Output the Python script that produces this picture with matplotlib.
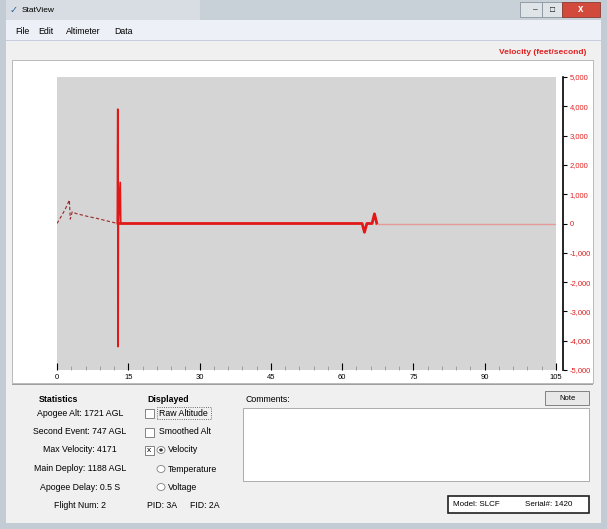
import matplotlib.pyplot as plt
from matplotlib.patches import Rectangle, Circle

plt.rcParams['font.family'] = ['Liberation Sans', 'DejaVu Sans']

# Velocity trace (seconds, feet/second)
ascent_t = [0, 0.8, 1.6, 2.2, 2.6, 2.8, 3.2, 4.0, 5.0, 6.0, 7.0, 8.0, 9.0, 10.0, 11.0, 12.0, 12.7]
ascent_v = [0, 220, 450, 650, 800, 150, 400, 340, 300, 260, 220, 190, 150, 110, 70, 30, 0]
spike_t = [12.7, 12.8, 12.85, 12.9, 13.3, 13.4]
spike_v = [0, 3900, -4200, 0, 1400, 0]
main_t = [12.9, 30, 50, 64.2, 64.7, 65.2, 66.3, 66.8, 67.3]
main_v = [0, 0, 0, 0, -300, 0, 0, 330, 0]
tail_t = [67.3, 80, 95, 105]
tail_v = [0, 0, 0, 0]

x_ticks = [0, 15, 30, 45, 60, 75, 90, 105]
y_ticks = [5000, 4000, 3000, 2000, 1000, 0, -1000, -2000, -3000, -4000, -5000]
y_tick_labels = ["5,000", "4,000", "3,000", "2,000", "1,000", "0",
                 "-1,000", "-2,000", "-3,000", "-4,000", "-5,000"]

menu_items = ["File", "Edit", "Altimeter", "Data"]
stats_lines = ["Apogee Alt: 1721 AGL", "Second Event: 747 AGL", "Max Velocity: 4171",
               "Main Deploy: 1188 AGL", "Apogee Delay: 0.5 S", "Flight Num: 2"]
displayed_items = ["Raw Altitude", "Smoothed Alt", "Velocity", "Temperature", "Voltage"]

W, H = 607, 529
fig = plt.figure(figsize=(W / 100, H / 100), dpi=100)
fig.patch.set_facecolor("#f0f0f0")


def box(x0, y0, x1, y1, **kw):
    fig.add_artist(Rectangle((x0 / W, 1 - y1 / H), (x1 - x0) / W, (y1 - y0) / H,
                             transform=fig.transFigure, **kw))


def label(x, y, s, **kw):
    kw.setdefault("fontsize", 6.3)
    kw.setdefault("va", "center")
    fig.text(x / W, 1 - y / H, s, **kw)


# window chrome
box(0, 0, W, 20, color="#c9d1d8", lw=0)
box(0, 0, 200, 20, color="#d7dde2", lw=0)
box(0, 0, 6, H, color="#c3ccd4", lw=0)
box(W - 6, 0, W, H, color="#c3ccd4", lw=0)
box(0, H - 6, W, H, color="#c3ccd4", lw=0)
box(520, 2, 542, 17, facecolor="#dfe4e8", edgecolor="#8a949c", lw=0.6)
box(542, 2, 562, 17, facecolor="#dfe4e8", edgecolor="#8a949c", lw=0.6)
box(562, 2, 600, 17, facecolor="#d24a3c", edgecolor="#8a3a30", lw=0.6)
label(581, 9.5, "x", color="white", ha="center", fontsize=7, fontweight="bold")
label(535, 10, "–", ha="center", fontsize=6)
label(552, 10, "□", ha="center", fontsize=6)
label(10, 10, "✓", color="#3060a0", fontsize=7)
label(22, 10, "StatView", fontsize=6)
box(6, 20, W - 6, 40, color="#eef0f7", lw=0)
box(6, 40, W - 6, 41, color="#c8cede", lw=0)
for xm, item in zip([15, 38, 66, 114], menu_items):
    label(xm, 31, item)

# chart panel
box(12, 60, 593, 383, facecolor="white", edgecolor="#b0b0b0", lw=0.6, zorder=-1)
label(586, 53, "Velocity (feet/second)", color="#e02020", fontsize=6,
      fontweight="bold", ha="right")

ax = fig.add_axes([57 / W, 1 - 370 / H, (556 - 57) / W, (370 - 77) / H])
ax.set_zorder(5)
ax.set_facecolor("#d5d5d5")
ax.plot(ascent_t, ascent_v, color="#9a2828", lw=0.8, ls=(0, (3, 2)))
ax.plot(spike_t, spike_v, color="#e01818", lw=1.3)
ax.plot(main_t, main_v, color="#e01818", lw=2)
ax.plot(tail_t, tail_v, color="#e89a9a", lw=1)
ax.set_xlim(0, 105)
ax.set_ylim(-5000, 5000)
for side in ["left", "top", "bottom"]:
    ax.spines[side].set_visible(False)
ax.spines["right"].set_position(("outward", 5))
ax.spines["right"].set_linewidth(1.2)
ax.yaxis.tick_right()
ax.set_yticks(y_ticks)
ax.set_yticklabels(y_tick_labels)
ax.tick_params(axis="y", colors="black", labelcolor="#e02020", labelsize=5.5,
               length=3, width=0.8, pad=2)
ax.set_xticks(x_ticks)
ax.set_xticklabels([str(v) for v in x_ticks])
ax.set_xticks(range(0, 106, 3), minor=True)
ax.tick_params(axis="x", which="major", direction="in", length=5, width=0.8,
               labelsize=5.5, pad=3)
ax.tick_params(axis="x", which="minor", direction="in", length=3, width=0.6,
               color="#999999")

# lower panel
box(12, 384, 593, 385, color="#a0a0a0", lw=0)
label(58, 399, "Statistics", fontweight="bold", ha="center")
for i, line in enumerate(stats_lines):
    label(80, 413 + i * 18.5, line, ha="center")

label(147, 399, "Displayed", fontweight="bold")
box(145, 409, 154, 418, facecolor="white", edgecolor="#707070", lw=0.6)
box(157, 407, 211, 419, fill=False, edgecolor="#404040", lw=0.6, ls=":")
label(159, 413, displayed_items[0])
box(145, 428, 154, 437, facecolor="white", edgecolor="#707070", lw=0.6)
label(159, 432, displayed_items[1])
box(145, 446, 154, 455, facecolor="white", edgecolor="#707070", lw=0.6)
label(149.5, 450.5, "x", ha="center", fontsize=6)
for yy, item in zip([450, 469, 487], displayed_items[2:]):
    fig.add_artist(Circle((161 / W, 1 - yy / H), 4 / W, transform=fig.transFigure,
                          facecolor="white", edgecolor="#808080", lw=0.6))
    label(168, yy, item)
fig.add_artist(Circle((161 / W, 1 - 450 / H), 1.8 / W, transform=fig.transFigure,
                      color="#303030", lw=0))
label(147, 505, "PID: 3A")
label(190, 505, "FID: 2A")

label(245, 399, "Comments:")
box(545, 391, 589, 405, facecolor="#e8e8e8", edgecolor="#707070", lw=0.6)
label(567, 398, "Note", ha="center", fontsize=5.5)
box(243, 408, 589, 481, facecolor="white", edgecolor="#a0a0a0", lw=0.6)

box(448, 496, 589, 513, facecolor="white", edgecolor="#202020", lw=1.2)
label(453, 504.5, "Model: SLCF", fontsize=5.8)
label(525, 504.5, "Serial#: 1420", fontsize=5.8)

fig.savefig("out.png", dpi=100)
